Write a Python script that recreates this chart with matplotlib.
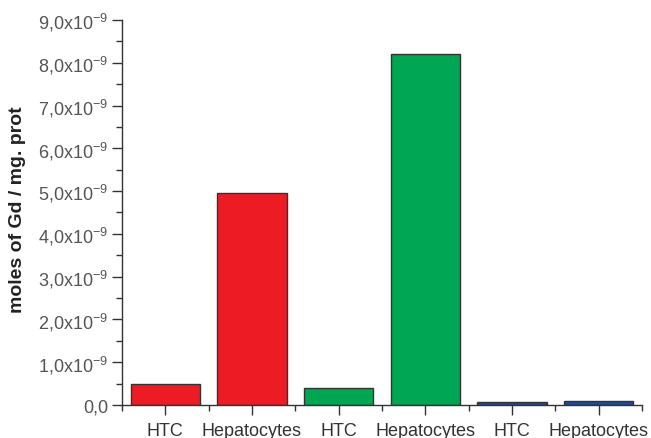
import numpy as np
import matplotlib
matplotlib.use('Agg')
import matplotlib.pyplot as plt
from matplotlib.ticker import FixedLocator, FuncFormatter

plt.rcParams['font.family'] = ['Liberation Sans', 'DejaVu Sans']

# Gd uptake per mg protein for each cell type / condition
cells = ['HTC', 'Hepatocytes', 'HTC', 'Hepatocytes', 'HTC', 'Hepatocytes']
moles = [0.50e-9, 4.95e-9, 0.40e-9, 8.20e-9, 0.07e-9, 0.10e-9]
colors = ['#ED1C24', '#ED1C24', '#00A651', '#00A651', '#1F4A9E', '#1F4A9E']
yticks = [i * 1e-9 for i in range(10)]

fig = plt.figure(figsize=(6.51, 4.39), dpi=100)
ax = fig.add_axes([0.1874, 0.0752, 0.7986, 0.877])

x = np.arange(len(cells))
ax.bar(x, moles, width=0.8, color=colors, edgecolor='#333333', linewidth=1.0)

ax.set_xlim(-0.5, 5.5)
ax.set_ylim(0, 9e-9)

ax.spines['top'].set_visible(False)
ax.spines['right'].set_visible(False)
for s in ('left', 'bottom'):
    ax.spines[s].set_color('#333333')
    ax.spines[s].set_linewidth(1.0)

ax.set_xticks(x)
ax.set_xticklabels(cells)
ax.xaxis.set_minor_locator(FixedLocator(np.arange(-0.5, 5.6, 1.0)))
ax.yaxis.set_major_locator(FixedLocator(yticks))
ax.yaxis.set_minor_locator(FixedLocator([t + 0.5e-9 for t in yticks[:-1]]))


def fmt(v, pos):
    n = int(round(v / 1e-9))
    if n == 0:
        return '0,0'
    return r'%d,0x10$^{\mathregular{-9}}$' % n


ax.yaxis.set_major_formatter(FuncFormatter(fmt))
ax.tick_params(axis='both', which='major', direction='out', length=7, width=1.0,
               color='#333333', labelcolor='#555555', labelsize=13)
ax.tick_params(axis='both', which='minor', direction='out', length=4, width=1.0,
               color='#333333')
ax.tick_params(axis='y', which='major', pad=3)
ax.tick_params(axis='x', labelcolor='#333333', pad=5)

ax.set_ylabel('moles of Gd / mg. prot', fontsize=14, fontweight='bold',
              color='#222222')
ax.yaxis.set_label_coords(-0.185, 0.51)

fig.savefig('out.png', dpi=100)
